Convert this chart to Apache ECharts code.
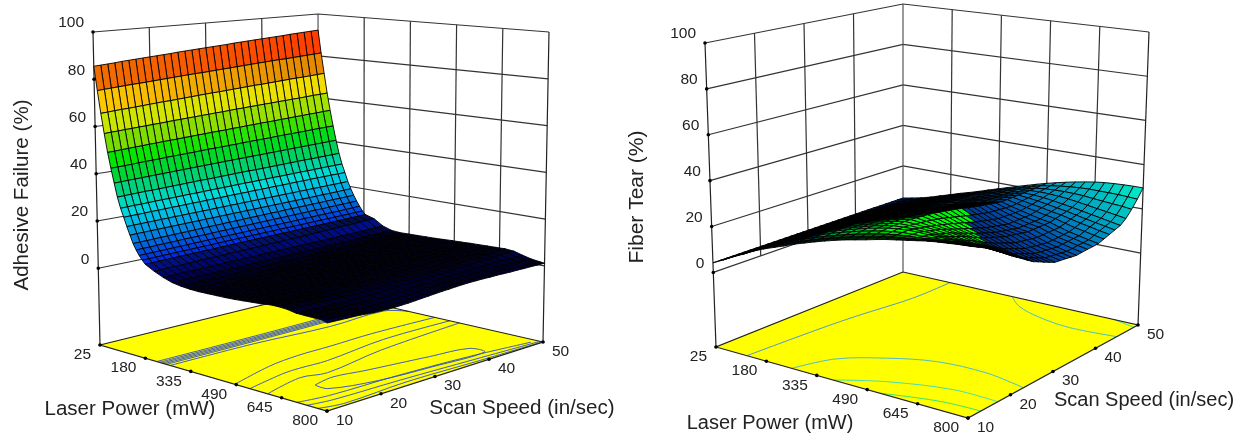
<!DOCTYPE html>
<html><head><meta charset="utf-8"><style>html,body{margin:0;background:#fff}#c{width:1243px;height:438px}</style>
<script src="https://cdn.jsdelivr.net/npm/echarts@6/dist/echarts.min.js"></script></head><body><div id="c"></div><script>
const laserTicks=[25,180,335,490,645,800];
const speedTicks=[10,20,30,40,50];
const zTicks=[0,20,40,60,80,100];
const speedGrid=[10,11.25,12.5,13.75,15,16.25,17.5,18.75,20,21.25,22.5,23.75,25,26.25,27.5,28.75,30,31.25,32.5,33.75,35,36.25,37.5,38.75,40,41.25,42.5,43.75,45,46.25,47.5,48.75,50];
const adhesiveLaser=[25,35,45,55,65,75,85,95,105,115,125,135,145,155,165,175,185,215,245,275,305,335,365,395,425,455,485,515,545,575,605,635,665,695,725,755,785,800];
const adhesiveFailure=[
[85.5,85.7,85.9,86.1,86.4,86.6,86.8,87,87.2,87.4,87.6,87.8,88.1,88.3,88.5,88.7,88.9,89.1,89.3,89.5,89.8,90,90.2,90.4,90.6,90.8,91,91.2,91.5,91.7,91.9,92.1,92.3],
[75.4,75.6,75.8,76,76.2,76.4,76.5,76.7,76.9,77.1,77.3,77.5,77.7,77.9,78.1,78.2,78.4,78.6,78.8,79,79.2,79.4,79.6,79.8,80,80.2,80.4,80.5,80.7,80.9,81.1,81.3,81.5],
[66,66.2,66.4,66.6,66.7,66.9,67.1,67.3,67.5,67.7,67.8,68,68.2,68.4,68.6,68.8,69,69.1,69.3,69.5,69.7,69.9,70.1,70.2,70.4,70.6,70.8,71,71.2,71.3,71.5,71.7,71.9],
[57.7,57.9,58,58.2,58.3,58.5,58.6,58.8,58.9,59.1,59.3,59.4,59.6,59.7,59.9,60,60.2,60.3,60.5,60.7,60.8,61,61.1,61.3,61.4,61.6,61.7,61.9,62,62.2,62.4,62.5,62.7],
[50,50.1,50.3,50.4,50.6,50.7,50.9,51,51.2,51.3,51.4,51.6,51.7,51.9,52,52.2,52.3,52.4,52.6,52.7,52.9,53,53.2,53.3,53.4,53.6,53.7,53.9,54,54.2,54.3,54.5,54.6],
[43.6,43.7,43.8,43.9,44.1,44.2,44.3,44.4,44.6,44.7,44.8,44.9,45,45.2,45.3,45.4,45.5,45.6,45.7,45.9,46,46.1,46.2,46.3,46.5,46.6,46.7,46.8,46.9,47.1,47.2,47.3,47.4],
[37.6,37.7,37.8,37.9,38,38.1,38.2,38.3,38.4,38.5,38.6,38.7,38.8,38.9,39,39.1,39.2,39.3,39.4,39.5,39.6,39.7,39.8,39.9,40,40.1,40.2,40.3,40.4,40.5,40.6,40.7,40.8],
[32,32.1,32.2,32.3,32.4,32.4,32.5,32.6,32.7,32.8,32.9,33,33.1,33.1,33.2,33.3,33.4,33.5,33.6,33.7,33.7,33.8,33.9,34,34.1,34.2,34.3,34.4,34.4,34.5,34.6,34.7,34.8],
[27.6,27.7,27.8,27.8,27.9,28,28.1,28.1,28.2,28.3,28.4,28.4,28.5,28.6,28.7,28.7,28.8,28.9,29,29,29.1,29.2,29.3,29.3,29.4,29.5,29.6,29.6,29.7,29.8,29.9,29.9,30],
[24.1,24.2,24.2,24.3,24.4,24.4,24.5,24.6,24.6,24.7,24.8,24.8,24.9,25,25,25.1,25.2,25.2,25.3,25.4,25.4,25.5,25.6,25.6,25.7,25.8,25.8,25.9,26,26,26.1,26.1,26.2],
[20.5,20.6,20.6,20.7,20.7,20.8,20.8,20.9,20.9,21,21,21.1,21.1,21.2,21.2,21.3,21.3,21.4,21.4,21.5,21.5,21.6,21.6,21.7,21.7,21.8,21.8,21.9,21.9,22,22,22.1,22.2],
[17.2,17.3,17.3,17.4,17.4,17.5,17.5,17.6,17.6,17.7,17.7,17.8,17.8,17.9,17.9,18,18,18.1,18.1,18.2,18.2,18.3,18.3,18.4,18.4,18.5,18.5,18.6,18.7,18.7,18.8,18.9,19],
[14,14.1,14.1,14.2,14.3,14.3,14.4,14.5,14.5,14.6,14.7,14.8,14.8,14.9,15,15,15.1,15.2,15.2,15.3,15.4,15.4,15.5,15.6,15.6,15.7,15.8,15.8,15.9,16,16,16.1,16.2],
[11.6,11.7,11.7,11.8,11.9,11.9,12,12.1,12.1,12.2,12.2,12.3,12.4,12.4,12.5,12.6,12.6,12.7,12.8,12.8,12.9,12.9,13,13.1,13.1,13.2,13.3,13.3,13.4,13.5,13.5,13.6,13.7],
[9.6,9.7,9.7,9.8,9.8,9.9,9.9,10,10.1,10.1,10.2,10.2,10.3,10.3,10.4,10.4,10.5,10.6,10.6,10.7,10.7,10.8,10.8,10.9,11,11,11.1,11.1,11.2,11.2,11.3,11.4,11.5],
[8,8,8.1,8.1,8.2,8.2,8.3,8.3,8.4,8.4,8.5,8.5,8.6,8.6,8.7,8.7,8.8,8.8,8.9,8.9,9,9,9,9.1,9.1,9.2,9.2,9.3,9.3,9.4,9.4,9.5,9.5],
[6.6,6.6,6.7,6.7,6.8,6.8,6.9,6.9,7,7,7,7.1,7.1,7.2,7.2,7.3,7.3,7.4,7.4,7.4,7.5,7.5,7.6,7.6,7.7,7.7,7.8,7.8,7.9,7.9,8,8,8.1],
[4.6,4.6,4.7,4.7,4.8,4.8,4.9,5,5,5.1,5.1,5.2,5.3,5.3,5.4,5.4,5.5,5.6,5.6,5.7,5.8,5.8,5.9,6,6.1,6.2,6.3,6.4,6.5,6.6,6.7,6.8,6.9],
[3,3,3,3.1,3.1,3.1,3.2,3.2,3.2,3.3,3.3,3.3,3.4,3.4,3.4,3.5,3.5,3.5,3.6,3.6,3.6,3.7,3.7,3.7,3.8,3.8,3.9,3.9,4,4,4.1,4.2,4.3],
[1.8,1.8,1.8,1.8,1.9,1.9,1.9,1.9,2,2,2,2,2.1,2.1,2.1,2.2,2.2,2.2,2.3,2.3,2.3,2.4,2.4,2.4,2.5,2.5,2.6,2.6,2.7,2.7,2.8,2.9,3],
[1.2,1.2,1.2,1.2,1.2,1.3,1.3,1.3,1.3,1.4,1.4,1.4,1.5,1.5,1.5,1.6,1.6,1.6,1.7,1.7,1.8,1.8,1.9,1.9,2,2,2.1,2.2,2.3,2.4,2.5,2.6,2.7],
[.9,.9,.9,.9,1,1,1,1,1.1,1.1,1.1,1.2,1.2,1.3,1.3,1.4,1.4,1.5,1.5,1.6,1.6,1.7,1.8,1.8,1.9,2,2.1,2.2,2.3,2.4,2.5,2.7,2.8],
[.8,.8,.8,.8,.9,.9,.9,1,1,1,1.1,1.1,1.2,1.2,1.3,1.3,1.4,1.4,1.5,1.6,1.6,1.7,1.8,1.8,1.9,2,2.1,2.2,2.3,2.4,2.6,2.7,2.9],
[.9,.9,.9,1,1,1,1,1.1,1.1,1.1,1.2,1.2,1.3,1.3,1.4,1.4,1.5,1.5,1.6,1.7,1.7,1.8,1.9,1.9,2,2.1,2.2,2.3,2.4,2.5,2.7,2.8,3],
[1,1,1,1,1.1,1.1,1.1,1.2,1.2,1.2,1.3,1.3,1.4,1.4,1.5,1.5,1.6,1.7,1.7,1.8,1.8,1.9,2,2.1,2.1,2.2,2.3,2.4,2.5,2.6,2.8,2.9,3.1],
[1.1,1.1,1.1,1.1,1.2,1.2,1.2,1.3,1.3,1.4,1.4,1.5,1.5,1.6,1.6,1.7,1.7,1.8,1.9,1.9,2,2,2.1,2.2,2.3,2.3,2.4,2.5,2.7,2.8,2.9,3.1,3.3],
[1.3,1.3,1.3,1.3,1.3,1.4,1.4,1.4,1.5,1.5,1.6,1.6,1.7,1.7,1.8,1.8,1.9,2,2,2.1,2.2,2.2,2.3,2.4,2.5,2.6,2.7,2.8,2.9,3,3.1,3.3,3.5],
[1.6,1.6,1.6,1.6,1.6,1.6,1.6,1.6,1.7,1.7,1.7,1.8,1.8,1.9,1.9,2,2,2.1,2.2,2.2,2.3,2.4,2.5,2.5,2.6,2.7,2.8,2.9,3,3.1,3.2,3.4,3.6],
[1.9,1.9,1.8,1.8,1.8,1.8,1.8,1.8,1.8,1.8,1.9,1.9,2,2,2.1,2.1,2.2,2.3,2.3,2.4,2.5,2.6,2.6,2.7,2.8,2.9,3,3.1,3.2,3.3,3.4,3.6,3.8],
[2.2,2.1,2.1,2,2,1.9,1.9,1.9,1.9,1.9,2,2,2,2.1,2.1,2.2,2.3,2.3,2.4,2.5,2.6,2.6,2.7,2.8,2.9,3,3.1,3.2,3.3,3.4,3.6,3.7,3.9],
[2.7,2.6,2.5,2.4,2.3,2.2,2.1,2,2,2,2,2.1,2.1,2.1,2.2,2.3,2.3,2.4,2.5,2.6,2.6,2.7,2.8,2.9,3,3.1,3.2,3.3,3.4,3.5,3.7,3.8,4],
[2.8,2.7,2.6,2.5,2.4,2.2,2.1,2,2,1.9,1.9,1.9,2,2,2.1,2.2,2.3,2.4,2.4,2.5,2.6,2.7,2.8,2.9,3.1,3.2,3.3,3.4,3.6,3.7,3.8,4,4.1],
[2.6,2.5,2.4,2.3,2.2,2.1,2,1.9,1.8,1.7,1.7,1.7,1.7,1.8,1.9,2,2.1,2.2,2.3,2.4,2.5,2.6,2.8,2.9,3,3.2,3.3,3.5,3.6,3.8,3.9,4.1,4.2],
[2,1.9,1.8,1.7,1.6,1.5,1.4,1.3,1.3,1.3,1.3,1.3,1.4,1.5,1.6,1.7,1.8,2,2.1,2.2,2.3,2.5,2.6,2.7,2.9,3,3.1,3.3,3.4,3.5,3.7,3.8,3.9],
[1.9,1.8,1.7,1.6,1.4,1.3,1.2,1.1,1,.9,.9,.9,1,1.1,1.2,1.3,1.5,1.6,1.7,1.9,2,2.1,2.3,2.4,2.5,2.6,2.7,2.8,2.9,2.9,2.9,2.9,2.8],
[1.9,1.8,1.7,1.5,1.3,1.1,.9,.7,.6,.5,.5,.6,.7,.8,.9,1.1,1.2,1.4,1.5,1.7,1.8,2,2.1,2.2,2.3,2.4,2.4,2.4,2.3,2.3,2.2,2,1.9],
[1.9,1.7,1.5,1.3,1.1,.9,.6,.4,.3,.2,.2,.3,.4,.6,.7,.9,1.1,1.2,1.4,1.6,1.7,1.8,1.9,2,2,2,2,1.9,1.8,1.7,1.6,1.5,1.4],
[1.2,1.1,1,.9,.8,.7,.4,.2,.1,0,0,.1,.2,.4,.6,.8,1,1.2,1.3,1.5,1.6,1.7,1.7,1.7,1.6,1.6,1.5,1.4,1.4,1.3,1.3,1.2,1.2]
];
const fiberLaser=[25,56,87,118,149,180,211,242,273,304,335,366,397,428,459,490,521,552,583,614,645,676,707,738,769,800];
const fiberTear=[
[4.2,4.2,4.2,4.2,4.2,4.2,4.2,4.2,4.2,4.2,4.2,4.2,4.2,4.2,4.2,4.2,4.2,4.2,4.2,4.2,4.2,4.2,4.2,4.2,4.2,4.2,4.2,4.2,4.1,4.1,4.1,4.1,4.1],
[6.5,6.5,6.5,6.4,6.4,6.4,6.4,6.3,6.3,6.3,6.3,6.2,6.2,6.2,6.2,6.1,6.1,6.1,6,6,5.9,5.9,5.8,5.8,5.7,5.6,5.5,5.4,5.3,5.2,5.2,5.1,5],
[9,9,8.9,8.9,8.8,8.8,8.7,8.7,8.6,8.6,8.5,8.5,8.4,8.3,8.2,8.2,8.1,8,8,7.9,7.8,7.7,7.6,7.5,7.4,7.2,7.1,6.9,6.7,6.5,6.4,6.2,6],
[11.2,11.2,11.2,11.1,11.1,11,10.9,10.9,10.8,10.7,10.6,10.6,10.5,10.4,10.3,10.1,10,9.9,9.8,9.6,9.5,9.4,9.3,9.1,9,8.8,8.6,8.4,8.2,8,7.8,7.5,7.3],
[13.6,13.6,13.5,13.5,13.4,13.3,13.2,13.1,13,12.9,12.7,12.6,12.4,12.3,12.1,12,11.8,11.7,11.5,11.4,11.2,11,10.9,10.7,10.5,10.3,10.1,9.8,9.6,9.4,9.2,9,8.8],
[15.6,15.6,15.6,15.5,15.5,15.4,15.3,15.2,15,14.8,14.7,14.5,14.3,14.1,13.9,13.7,13.5,13.3,13.1,13,12.8,12.6,12.4,12.2,12,11.8,11.5,11.3,11,10.8,10.6,10.4,10.2],
[17.3,17.4,17.5,17.6,17.6,17.5,17.4,17.3,17.2,17,16.8,16.6,16.4,16.1,15.9,15.6,15.4,15.1,14.9,14.6,14.4,14.1,13.9,13.6,13.4,13.2,13,12.7,12.5,12.3,12.1,11.9,11.7],
[19,19.2,19.4,19.5,19.6,19.5,19.5,19.4,19.2,19,18.7,18.5,18.2,17.9,17.6,17.4,17.1,16.8,16.5,16.2,15.9,15.6,15.3,15.1,14.8,14.5,14.3,14,13.8,13.6,13.4,13.2,13],
[20.8,21,21.3,21.5,21.6,21.6,21.5,21.4,21.3,21,20.7,20.4,20.1,19.8,19.4,19.1,18.7,18.4,18,17.7,17.3,17,16.6,16.3,16,15.8,15.5,15.3,15.1,14.9,14.7,14.6,14.4],
[22.3,22.6,22.9,23.2,23.4,23.4,23.4,23.3,23.2,22.9,22.6,22.3,21.9,21.5,21.1,20.6,20.2,19.8,19.3,18.9,18.5,18.1,17.8,17.4,17.1,16.9,16.7,16.5,16.4,16.3,16.2,16,15.9],
[23.8,24.1,24.4,24.8,25,25.1,25.1,25.1,25,24.7,24.3,23.9,23.5,23,22.5,22,21.5,21,20.5,20,19.5,19.1,18.7,18.3,18,17.9,17.8,17.6,17.5,17.5,17.4,17.4,17.3],
[25.2,25.5,25.8,26.2,26.4,26.5,26.5,26.5,26.4,26.1,25.8,25.4,25,24.5,24,23.5,23,22.5,21.9,21.4,20.9,20.5,20,19.7,19.3,19.2,19,18.9,18.8,18.8,18.7,18.7,18.7],
[26.5,26.8,27.1,27.5,27.7,27.8,27.9,27.9,27.8,27.5,27.2,26.8,26.4,25.9,25.4,24.9,24.4,23.9,23.3,22.8,22.2,21.8,21.3,20.9,20.5,20.4,20.2,20.1,20,20,20,20,20.1],
[27.7,28,28.3,28.7,29,29.1,29.1,29.1,29,28.7,28.4,28.1,27.8,27.3,26.8,26.3,25.8,25.2,24.6,24.1,23.5,23,22.5,22,21.6,21.5,21.4,21.3,21.2,21.2,21.3,21.3,21.4],
[28.7,29,29.4,29.7,30,30.1,30.2,30.2,30.1,29.9,29.6,29.3,29,28.5,28,27.5,27,26.4,25.8,25.2,24.6,24.1,23.6,23.1,22.6,22.5,22.5,22.4,22.4,22.4,22.5,22.6,22.7],
[29.7,30,30.4,30.7,31,31.1,31.1,31.1,31,30.8,30.6,30.3,30,29.5,29,28.5,28,27.4,26.7,26.1,25.5,25,24.5,24,23.5,23.5,23.5,23.5,23.5,23.6,23.7,23.8,23.9],
[30.8,31,31.2,31.4,31.6,31.4,31.2,30.9,30.6,30.2,29.8,29.3,28.8,28.1,27.4,26.7,26,25.4,24.7,24.1,23.5,23.2,22.9,22.6,22.3,22.5,22.8,23.1,23.4,23.8,24.2,24.6,25],
[31.8,31.9,31.9,32,32,31.6,31.1,30.6,30,29.4,28.8,28.1,27.4,26.6,25.8,25,24.2,23.6,22.9,22.3,21.7,21.6,21.4,21.3,21.2,21.6,22,22.5,23,23.7,24.4,25.2,26],
[32.6,32.5,32.4,32.2,32.1,31.5,30.9,30.3,29.6,28.7,27.8,26.9,26,25.2,24.3,23.5,22.6,22,21.4,20.8,20.2,20.2,20.2,20.2,20.2,20.7,21.3,21.8,22.4,23.4,24.5,25.7,26.9],
[33.4,33,32.7,32.3,32,31.3,30.5,29.8,29,28,27,26,25,24.1,23.2,22.4,21.5,20.9,20.3,19.8,19.2,19.2,19.2,19.2,19.2,19.8,20.4,21,21.7,23,24.4,26,27.7],
[34.2,33.7,33.1,32.6,32,31.2,30.3,29.4,28.5,27.4,26.2,25.1,24,23.1,22.2,21.4,20.5,20,19.5,19,18.5,18.5,18.5,18.5,18.5,19.1,19.7,20.3,21,22.4,24.2,26.2,28.4],
[35,34.2,33.5,32.7,32,30.9,29.9,28.8,27.7,26.4,25.1,23.9,22.6,21.6,20.7,19.7,18.8,18.3,17.9,17.4,17,17,17.1,17.1,17.2,17.9,18.7,19.4,20.2,21.7,23.7,26.1,28.9],
[35.6,34.7,33.8,32.9,32,30.7,29.4,28.1,26.8,25.4,24,22.6,21.2,20.2,19.2,18.2,17.2,16.8,16.3,15.9,15.5,15.6,15.7,15.9,16,16.8,17.7,18.5,19.4,21,23.3,26.1,29.2],
[36,35,34,33,32,30.6,29.1,27.7,26.2,24.7,23.1,21.6,20,19,18,17,16,15.6,15.3,14.9,14.5,14.7,14.8,15,15.1,16,16.9,17.7,18.6,20.4,22.9,26,29.4],
[36.5,35.4,34.2,33.1,32,30.4,28.8,27.2,25.6,24,22.4,20.8,19.2,18.2,17.1,16.1,15,14.6,14.3,13.9,13.5,13.7,13.9,14,14.2,15.1,16,16.9,17.8,19.7,22.6,25.8,29.5],
[36.8,35.6,34.4,33.2,32,30.3,28.5,26.8,25,23.4,21.8,20.1,18.5,17.4,16.2,15.1,14,13.7,13.4,13,12.7,12.9,13.1,13.2,13.4,14.3,15.2,16.1,17,19,22,25.5,29.5]
];
// floor contour lines, laser power / scan speed pairs
const adhesiveContourLaser=[[219,222,218],[228,231,228],[236,239,236],[244,247,244],[252,255,252],[265,270,292,285,335],[486,437,421,420,415,426],[537,505,502,505,474,478],[598,560,579,538,511],[630,614,634,651,669,694,747,737,718,674,630],[698,716,724,744,777],[732,747,756,773,790],[769,788,778,790,798]];
const adhesiveContourSpeed=[[10,30,50],[10,30,50],[10,30,50],[10,30,50],[10,30,50],[10,25,38,48,50],[10,19,25,31,39,50],[10,18,21,26,38,50],[10,18,22,34,50],[17,21,26,31,36,42,42,33,24,17,17],[10,15,27,39,49],[10,14,26,39,50],[10,14,26,39,50]];
const fiberContourLaser=[[120,136,150,178,180],[258,302,398,516,666,800],[385,498,663,800],[529,678,800],[385,446,542,653,800],[723,800]];
const fiberContourSpeed=[[10,24.5,32,42,50],[10,16.6,21,24,24.5,23],[10,14,17,17],[10,12.5,13],[50,47.4,45.4,44.4,45],[50,49]];
const fiberContourColors=['#3a8fdc','#38b4e0','#30d8c8','#20e080','#35b8d8','#30d8c8'];

const ZMIN=-32.5,ZMAX=100;
const leftBox={A:[100,345],B:[327,411],C:[543,342],D:[319,291],At:[93,32],Bt:[327,65],Ct:[549,32],Dt:[318,14]};
const rightBox={A:[716,347],B:[968,418],C:[1138,325],D:[903,272],At:[705,43],Bt:[968,89],Ct:[1149,32],Dt:[903,4]};
function proj(b,lp,ss,z){
  const t=(lp-25)/775,s=(ss-10)/40,w=(z-ZMIN)/(ZMAX-ZMIN);
  return [0,1].map(i=>{
    const f=(1-t)*(1-s)*b.A[i]+t*(1-s)*b.B[i]+t*s*b.C[i]+(1-t)*s*b.D[i];
    const g=(1-t)*(1-s)*b.At[i]+t*(1-s)*b.Bt[i]+t*s*b.Ct[i]+(1-t)*s*b.Dt[i];
    return f+(g-f)*w;
  });
}
const lerpStops=(st,v)=>{
  if(v<=st[0][0])return st[0].slice(1);
  for(let i=1;i<st.length;i++)if(v<=st[i][0]){const a=st[i-1],b=st[i],k=(v-a[0])/(b[0]-a[0]);return [1,2,3].map(n=>a[n]+(b[n]-a[n])*k);}
  return st[st.length-1].slice(1);
};
const clamp01=v=>Math.min(1,Math.max(0,v));
const rgb=c=>`rgb(${c.map(Math.round).join(',')})`;
const adhesiveStops=[[2,0,0,190],[5,0,20,210],[9,0,60,220],[14,0,110,220],[20,0,170,230],[27,0,220,220],[33,0,210,150],[40,0,210,60],[47,0,230,0],[54,120,220,0],[62,200,230,0],[66,235,225,0],[70,255,210,0],[76,230,140,0],[80.5,240,110,0],[87,255,60,0],[92,255,40,0]];
const blueStops=[[0,0,40,120],[.2,0,75,165],[.45,0,130,190],[1,0,240,200]];
const greenStops=[[0,0,140,110],[1,0,255,0]];
const adhesiveColor=(z)=>lerpStops(adhesiveStops,z);
function fiberColor(z,lp,ss){
  const t=(lp-25)/775,s=(ss-10)/40;
  const lim=t<=.6?1.833*(t-.3):.55-(t-.6);
  if(s<lim){
    const g=clamp01((t-.3)/.35)*(1-clamp01((t-.85)/.15)*.5);
    const edge=.15+.85*clamp01((s-.03)/.06);
    return lerpStops(greenStops,g).map(v=>v*edge);
  }
  return lerpStops(blueStops,s*s*s*t);
}
function surface(box,lpGrid,ssGrid,table,colorFn,densLo,densHi){
  table.forEach((row,i)=>{if(row.length!==ssGrid.length)throw new Error('row '+i+' has '+row.length);});
  const cells=[];
  for(let r=0;r<lpGrid.length-1;r++)for(let c=ssGrid.length-2;c>=0;c--)cells.push([r,c]);
  return {type:'custom',data:cells,silent:true,animation:false,z:5,clip:false,encode:{x:0,y:1},progressive:0,
    renderItem(p,api){
      const r=api.value(0),c=api.value(1);
      const corners=[[r,c],[r+1,c],[r+1,c+1],[r,c+1]];
      const pts=corners.map(([i,j])=>api.coord(proj(box,lpGrid[i],ssGrid[j],table[i][j])));
      const zm=(table[r][c]+table[r+1][c]+table[r+1][c+1]+table[r][c+1])/4;
      let a=0;pts.forEach((q,i)=>{const n=pts[(i+1)%4];a+=q[0]*n[1]-n[0]*q[1];});a=Math.abs(a)/2;
      // thin, edge-on cells read almost black because their mesh lines merge
      const k=.1+.9*clamp01((a/(lpGrid[r+1]-lpGrid[r])-densLo)/(densHi-densLo));
      const fill=colorFn(zm,(lpGrid[r]+lpGrid[r+1])/2,(ssGrid[c]+ssGrid[c+1])/2).map(v=>v*k);
      return {type:'polygon',shape:{points:pts},style:{fill:rgb(fill),stroke:'#000',lineWidth:.9}};
    }};
}
function segSeries(box,segs,zv){
  return {type:'custom',data:segs.map((s,i)=>[i,0]),silent:true,animation:false,z:zv,clip:false,encode:{x:0,y:1},progressive:0,
    renderItem(p,api){
      const s=segs[api.value(0)];
      const pts=s.pts.map(q=>api.coord(proj(box,q[0],q[1],q[2])));
      return {type:'polyline',shape:{points:pts,smooth:s.smooth||0},style:{stroke:s.color,lineWidth:s.w||1,fill:'none'}};
    }};
}
function floorSeries(box){
  return {type:'custom',data:[[0,0]],silent:true,animation:false,z:3,clip:false,encode:{x:0,y:1},
    renderItem(p,api){
      const pts=[[25,10],[800,10],[800,50],[25,50]].map(q=>api.coord(proj(box,q[0],q[1],ZMIN)));
      return {type:'polygon',shape:{points:pts},style:{fill:'#ffff00',stroke:'none'}};
    }};
}
function frame(box){
  const g='#333',segs=[];
  zTicks.forEach(z=>segs.push({pts:[[25,10,z],[25,50,z],[800,50,z]],color:g,w:1.2}));
  speedTicks.slice(1,-1).forEach(ss=>segs.push({pts:[[25,ss,0],[25,ss,100]],color:g,w:1.2}));
  laserTicks.slice(1,-1).forEach(lp=>segs.push({pts:[[lp,50,0],[lp,50,100]],color:g,w:1.2}));
  segs.push({pts:[[25,10,ZMIN],[25,10,100]],color:'#222',w:1.2},{pts:[[25,50,ZMIN],[25,50,100]],color:'#555',w:1.2},{pts:[[800,50,ZMIN],[800,50,100]],color:'#222',w:1.2});
  return segSeries(box,segs,2);
}
function edges(box){
  return segSeries(box,[{pts:[[25,50,ZMIN],[25,10,ZMIN],[800,10,ZMIN],[800,50,ZMIN],[25,50,ZMIN]],color:'#222',w:1.2}],4);
}
function contours(box,lps,sss,colors){
  const segs=lps.map((l,i)=>({pts:l.map((lp,k)=>[lp,sss[i][k],ZMIN]),color:Array.isArray(colors)?colors[i]:colors,w:.9,smooth:.35}));
  return segSeries(box,segs,3.5);
}
function dots(box){
  const pts=[...zTicks.map(z=>[25,10,z]),...laserTicks.map(l=>[l,10,ZMIN]),...speedTicks.map(s=>[800,s,ZMIN])];
  return {type:'custom',data:pts.map((q,i)=>[i,0]),silent:true,animation:false,z:6,clip:false,encode:{x:0,y:1},progressive:0,
    renderItem(p,api){
      const q=pts[api.value(0)],c=api.coord(proj(box,q[0],q[1],q[2]));
      return {type:'circle',shape:{cx:c[0],cy:c[1],r:1.8},style:{fill:'#000'}};
    }};
}
const FONT='Liberation Sans, Arial, sans-serif';
function tickLabels(box){
  const L=[];
  zTicks.forEach(z=>L.push({q:[25,10,z],t:String(z),dx:-9,dy:-9,a:'right'}));
  laserTicks.forEach(l=>L.push({q:[l,10,ZMIN],t:String(l),dx:-9,dy:10,a:'right'}));
  speedTicks.forEach(s=>L.push({q:[800,s,ZMIN],t:String(s),dx:9,dy:9.5,a:'left'}));
  return {type:'custom',data:L.map((q,i)=>[i,0]),silent:true,animation:false,z:7,clip:false,encode:{x:0,y:1},progressive:0,
    renderItem(p,api){
      const l=L[api.value(0)],c=api.coord(proj(box,l.q[0],l.q[1],l.q[2]));
      return {type:'text',style:{x:c[0]+l.dx,y:c[1]+l.dy,text:l.t,align:l.a,verticalAlign:'middle',fill:'#222',font:'15.5px '+FONT}};
    }};
}
const titles=[
 {t:'Adhesive Failure (%)',x:22,y:195,r:90,f:20.6},{t:'Laser Power (mW)',x:130,y:409,f:20.5},{t:'Scan Speed (in/sec)',x:522,y:408,f:20.6},
 {t:'Fiber Tear (%)',x:637,y:197,r:90,f:21},{t:'Laser Power (mW)',x:770,y:423,f:20},{t:'Scan Speed (in/sec)',x:1144,y:400,f:20}];
const chart=echarts.init(document.getElementById('c'),null,{renderer:'canvas'});
chart.setOption({
 animation:false,backgroundColor:'#fff',
 grid:{left:0,right:0,top:0,bottom:0},
 xAxis:{type:'value',min:0,max:1243,show:false},
 yAxis:{type:'value',min:0,max:438,inverse:true,show:false},
 graphic:titles.map(o=>({type:'text',x:o.x,y:o.y,rotation:(o.r||0)*Math.PI/180,z:8,silent:true,style:{text:o.t,align:'center',verticalAlign:'middle',fill:'#222',font:o.f+'px '+FONT}})),
 series:[
  frame(leftBox),floorSeries(leftBox),contours(leftBox,adhesiveContourLaser,adhesiveContourSpeed,'#2a48d0'),edges(leftBox),
  surface(leftBox,adhesiveLaser,speedGrid,adhesiveFailure,adhesiveColor,.9,3),dots(leftBox),tickLabels(leftBox),
  frame(rightBox),floorSeries(rightBox),contours(rightBox,fiberContourLaser,fiberContourSpeed,fiberContourColors),edges(rightBox),
  surface(rightBox,fiberLaser,speedGrid,fiberTear,fiberColor,.29,.65),dots(rightBox),tickLabels(rightBox)
 ]
});
</script></body></html>
